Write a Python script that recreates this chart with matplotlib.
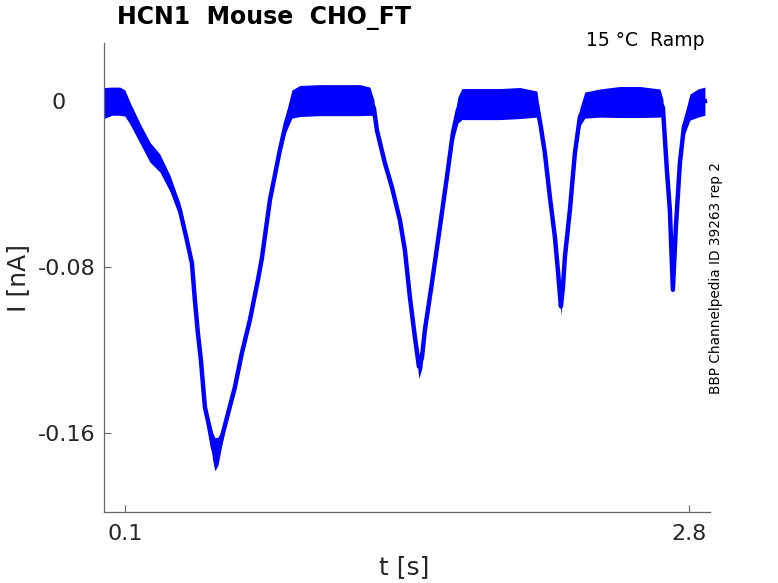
import matplotlib
matplotlib.use("Agg")
import matplotlib.pyplot as plt
import numpy as np
from matplotlib.transforms import ScaledTranslation

# trace: time [s], mean current [nA], noise half-width [nA]
T_S = [0.0000, 0.0378, 0.0761, 0.1000, 0.1240, 0.1719, 0.2197, 0.2676, 0.3155,
       0.3633, 0.3968, 0.4208, 0.4351, 0.4495, 0.4639, 0.4830, 0.5022, 0.5213,
       0.5309, 0.5452, 0.5596, 0.5787, 0.6266, 0.6601, 0.6984, 0.7367, 0.7559,
       0.7942, 0.8420, 0.8708, 0.8995, 0.9378, 1.0335, 1.1292, 1.2250, 1.2729,
       1.2920, 1.3064, 1.3447, 1.3782, 1.4165, 1.4404, 1.4643, 1.4883, 1.5074,
       1.5218, 1.5361, 1.5697, 1.6080, 1.6415, 1.6702, 1.6941, 1.7133, 1.7994,
       1.8952, 1.9909, 2.0723, 2.0914, 2.1106, 2.1345, 2.1585, 2.1728, 2.1872,
       2.1967, 2.2063, 2.2303, 2.2542, 2.2781, 2.3020, 2.3739, 2.4696, 2.5653,
       2.6611, 2.6754, 2.6946, 2.7089, 2.7233, 2.7377, 2.7568, 2.7760, 2.8047,
       2.8430, 2.8765]
I_NA = [-0.0008, 0.0001, 0.0001, -0.0008, -0.0056, -0.0153, -0.0245, -0.0298,
        -0.0395, -0.0525, -0.0670, -0.0781, -0.0960, -0.1119, -0.1249, -0.1476,
        -0.1564, -0.1670, -0.1704, -0.1690, -0.1640, -0.1565, -0.1380, -0.1215,
        -0.1056, -0.0863, -0.0757, -0.0477, -0.0235, -0.0105, -0.0013, 0.0002,
        0.0006, 0.0006, 0.0006, 0.0001, -0.0032, -0.0139, -0.0298, -0.0414,
        -0.0573, -0.0718, -0.0945, -0.1138, -0.1280, -0.1240, -0.1104, -0.0878,
        -0.0607, -0.0366, -0.0153, -0.0042, -0.0013, -0.0013, -0.0013, -0.0008,
        -0.0013, -0.0124, -0.0250, -0.0462, -0.0655, -0.0815, -0.0990, -0.0900,
        -0.0752, -0.0525, -0.0250, -0.0076, -0.0018, -0.0008, -0.0003, -0.0003,
        -0.0008, -0.0028, -0.0332, -0.0525, -0.0910, -0.0607, -0.0298, -0.0124,
        -0.0028, -0.0008, 0.0001]
NOISE_NA = [0.0075, 0.0068, 0.0068, 0.0063, 0.0053, 0.0048, 0.0048, 0.0043,
            0.0039, 0.0034, 0.0029, 0.0024, 0.0019, 0.0019, 0.0019, 0.0019,
            0.0034, 0.0068, 0.0080, 0.0068, 0.0043, 0.0024, 0.0024, 0.0024,
            0.0019, 0.0019, 0.0019, 0.0019, 0.0024, 0.0043, 0.0068, 0.0075,
            0.0075, 0.0075, 0.0075, 0.0068, 0.0039, 0.0024, 0.0024, 0.0024,
            0.0024, 0.0024, 0.0024, 0.0034, 0.0058, 0.0048, 0.0024, 0.0024,
            0.0024, 0.0024, 0.0043, 0.0063, 0.0075, 0.0075, 0.0075, 0.0075,
            0.0063, 0.0024, 0.0024, 0.0019, 0.0019, 0.0024, 0.0043, 0.0024,
            0.0019, 0.0019, 0.0024, 0.0043, 0.0063, 0.0068, 0.0075, 0.0075,
            0.0068, 0.0039, 0.0019, 0.0019, 0.0014, 0.0019, 0.0024, 0.0043,
            0.0063, 0.0068, 0.0068]

X_TICKS = [0.1, 2.8]
Y_TICKS = [0, -0.08, -0.16]
Y_TICK_LABELS = ["0", "-0.08", "-0.16"]

TRACE_COLOR = "#0000ff"
TEXT_COLOR = "#262626"

t = np.array(T_S)
i = np.array(I_NA)
hw = np.array(NOISE_NA)

fig = plt.figure(figsize=(7.78, 5.83), dpi=100)
ax = fig.add_axes([104 / 778, 1 - 512 / 583, 606 / 778, 469 / 583])

ax.fill_between(t, i - hw, i + hw, color=TRACE_COLOR, linewidth=0)
ax.plot(t, i, color=TRACE_COLOR, linewidth=3.2, solid_joinstyle="round")

ax.set_xlim(0.0, 2.901)
ax.set_ylim(-0.1983, 0.0282)

for side in ("top", "right"):
    ax.spines[side].set_visible(False)
for side in ("left", "bottom"):
    ax.spines[side].set_color("#666666")
    ax.spines[side].set_linewidth(0.9)

ax.set_xticks(X_TICKS)
ax.set_xticklabels([f"{v:g}" for v in X_TICKS])
ax.set_yticks(Y_TICKS)
ax.set_yticklabels(Y_TICK_LABELS)
ax.tick_params(axis="both", direction="in", length=5, width=0.8,
               color="#666666", labelsize=16, labelcolor=TEXT_COLOR)
ax.tick_params(axis="x", pad=9)
ax.tick_params(axis="y", pad=6)

# the "0" label sits further left in the reference
zero_lbl = ax.get_yticklabels()[0]
zero_lbl.set_transform(zero_lbl.get_transform()
                       + ScaledTranslation(-0.30, 0, fig.dpi_scale_trans))

fig.text(404 / 778, 1 - 567 / 583, "t [s]", ha="center", va="center",
         fontsize=18, color=TEXT_COLOR)
fig.text(18 / 778, 1 - 278 / 583, "I [nA]", ha="center", va="center",
         rotation=90, fontsize=18, color=TEXT_COLOR)

fig.text(117 / 778, 1 - 18 / 583, "HCN1  Mouse  CHO_FT", ha="left",
         va="center", fontsize=17, fontweight="bold", color="black")
fig.text(704 / 778, 1 - 40 / 583, "15 °C  Ramp", ha="right", va="center",
         fontsize=13.5, color="black")
fig.text(716 / 778, 1 - 278 / 583, "BBP Channelpedia ID 39263 rep 2",
         ha="center", va="center", rotation=90, fontsize=9.8, color="black")

fig.savefig("out.png", dpi=100)
